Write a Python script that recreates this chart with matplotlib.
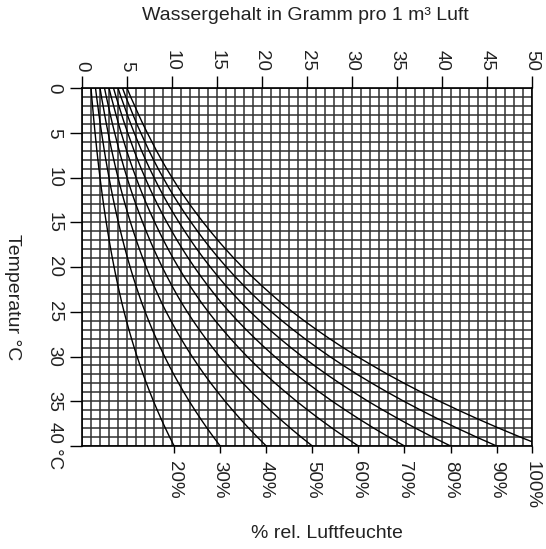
import matplotlib
import matplotlib.pyplot as plt
import numpy as np

matplotlib.use('Agg')

plt.rcParams['font.family'] = ['Liberation Sans', 'DejaVu Sans']

# Water content of saturated air (g per m3) for each degree from 0 to 40 C
temperatures = list(range(0, 41))
saturation = [5.00, 5.41, 5.86, 6.30, 6.76, 7.25, 7.76, 8.27, 8.82, 9.39,
              10.00, 10.62, 11.28, 11.97, 12.70, 13.46, 14.26, 15.08, 15.95, 16.86,
              17.82, 18.82, 19.88, 20.98, 22.13, 23.37, 24.68, 26.05, 27.49, 29.00,
              30.58, 32.25, 33.98, 35.81, 37.73, 39.73, 41.83, 44.02, 46.30, 48.69,
              51.19]

# Relative humidity curves drawn
humidity = [20, 30, 40, 50, 60, 70, 80, 90, 100]
humidity_labels = ['20%', '30%', '40%', '50%', '60%', '70%', '80%', '90%', '100%']

water_ticks = [0, 5, 10, 15, 20, 25, 30, 35, 40, 45, 50]
temp_ticks = [0, 5, 10, 15, 20, 25, 30, 35, 40]
temp_tick_labels = ['0', '5', '10', '15', '20', '25', '30', '35', '40 °C']

W, H = 546, 549
fig = plt.figure(figsize=(W / 100, H / 100), dpi=100)
ax = fig.add_axes([82 / W, (H - 446) / H, 450 / W, 358 / H])

sat = np.array(saturation)
for rh in humidity:
    ax.plot(sat * rh / 100, temperatures, color='black', lw=1.0, zorder=3)

ax.set_xlim(0, 50)
ax.set_ylim(40, 0)

# Fine 1 x 1 grid
ax.set_xticks(np.arange(0, 51, 1), minor=True)
ax.set_yticks(np.arange(0, 41, 1), minor=True)
ax.grid(which='both', color='#303030', lw=1.1, zorder=1)
ax.tick_params(which='minor', length=0)

# Water content scale along the top
ax.xaxis.tick_top()
ax.set_xticks(water_ticks)
ax.set_xticklabels([str(v) for v in water_ticks], rotation=-90, fontsize=13.5,
                   color='#222222')
ax.tick_params(axis='x', which='major', direction='out', length=9, width=1.0, pad=3)

# Temperature scale on the left
ax.set_yticks(temp_ticks)
ax.set_yticklabels(temp_tick_labels, rotation=-90, va='center', ha='right',
                   fontsize=13.5, color='#222222')
ax.tick_params(axis='y', which='major', direction='out', length=9, width=1.0, pad=5)

for s in ax.spines.values():
    s.set_linewidth(1.2)
    s.set_color('black')

# Humidity labels at the ends of the curves
ends = [min(sat[-1] * rh / 100, 50) for rh in humidity]
sec = ax.secondary_xaxis('bottom')
sec.set_xticks(ends)
sec.set_xticklabels(humidity_labels, rotation=-90, fontsize=13.5, va='top',
                    color='#222222')
sec.tick_params(direction='out', length=5, width=1.0, pad=6)
sec.spines['bottom'].set_visible(False)

fig.text(305 / W, 1 - 15 / H, 'Wassergehalt in Gramm pro 1 m³ Luft',
         ha='center', va='center', fontsize=14, color='#222222')
fig.text(12 / W, 1 - 297 / H, 'Temperatur °C', rotation=-90,
         ha='center', va='center', fontsize=14, color='#222222')
fig.text(327 / W, 1 - 534 / H, '% rel. Luftfeuchte',
         ha='center', va='center', fontsize=14, color='#222222')

fig.savefig('out.png', dpi=100)
